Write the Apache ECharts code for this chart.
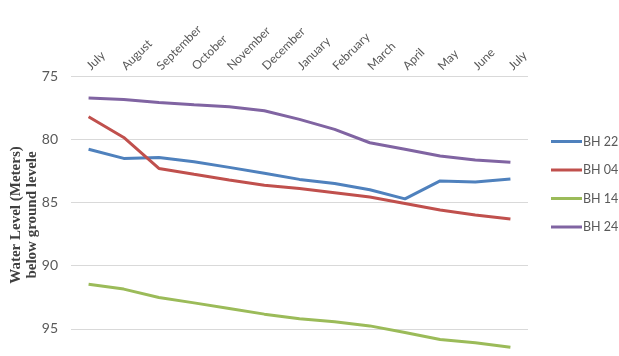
<!DOCTYPE html>
<html>
<head>
<meta charset="utf-8">
<script src="https://cdn.jsdelivr.net/npm/echarts@6/dist/echarts.min.js"></script>
<style>
html,body{margin:0;padding:0;background:#fff;overflow:hidden;}
#c{width:619px;height:400px;}
</style>
</head>
<body>
<div id="c"></div>
<script>
const months = ["July","August","September","October","November","December","January","February","March","April","May","June","July"];
const yTicks = [75, 80, 85, 90, 95, 100];
const seriesNames = ["BH 22", "BH 04", "BH 14", "BH 24"];
const bh22 = [80.8, 81.52, 81.44, 81.78, 82.23, 82.7, 83.18, 83.5, 84.0, 84.72, 83.3, 83.38, 83.14];
const bh04 = [78.22, 79.86, 82.31, 82.78, 83.23, 83.65, 83.9, 84.24, 84.58, 85.08, 85.6, 86.0, 86.32];
const bh14 = [91.47, 91.86, 92.52, 92.95, 93.39, 93.84, 94.2, 94.45, 94.77, 95.3, 95.85, 96.1, 96.46];
const bh24 = [76.74, 76.85, 77.1, 77.27, 77.43, 77.75, 78.43, 79.22, 80.28, 80.8, 81.33, 81.65, 81.83];
const colors = ["#4F81BD", "#C0504D", "#9BBB59", "#8064A2"];

const chart = echarts.init(document.getElementById('c'));
const mk = (name, data, color) => ({
  name, type: 'line', data, symbol: 'none', smooth: false,
  lineStyle: {width: 3, color}, itemStyle: {color}
});
chart.setOption({
  animation: false,
  backgroundColor: '#fff',
  grid: {left: 71, width: 457, top: 76, height: 316, containLabel: false},
  xAxis: {
    type: 'category', position: 'top', data: months, boundaryGap: true,
    axisLine: {show: false}, axisTick: {show: false},
    axisLabel: {rotate: -45, interval: 0, color: '#595959', fontSize: 12, fontFamily: 'Lato', margin: 8}
  },
  yAxis: {
    type: 'value', inverse: true, min: yTicks[0], max: yTicks[yTicks.length-1], interval: 5,
    axisLine: {show: false}, axisTick: {show: false},
    axisLabel: {color: '#595959', fontSize: 14, fontFamily: 'Lato', margin: 13},
    splitLine: {lineStyle: {color: '#D9D9D9', width: 1}}
  },
  legend: {
    orient: 'vertical', left: 551, top: 135, padding: 0,
    icon: 'rect', itemWidth: 31, itemHeight: 3, itemGap: 15.5,
    data: seriesNames,
    textStyle: {color: '#595959', fontSize: 12.5, fontFamily: 'Lato', padding: [0,0,0,-4]}
  },
  graphic: [{
    type: 'text', x: 24, y: 215, rotation: Math.PI/2,
    style: {
      text: 'Water Level (Meters)\nbelow ground levele',
      font: 'bold 15px "Liberation Serif"', fill: '#404040',
      align: 'center', verticalAlign: 'middle', lineHeight: 16
    }
  }],
  series: [
    mk(seriesNames[0], bh22, colors[0]),
    mk(seriesNames[1], bh04, colors[1]),
    mk(seriesNames[2], bh14, colors[2]),
    mk(seriesNames[3], bh24, colors[3])
  ]
});
</script>
</body>
</html>
